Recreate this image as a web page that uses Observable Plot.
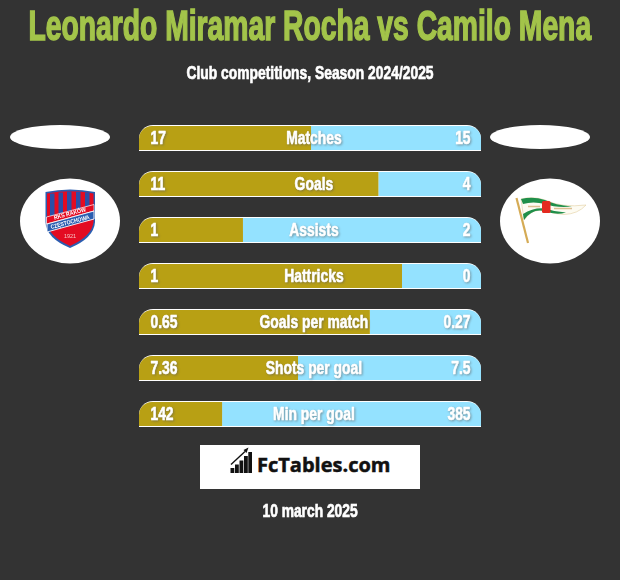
<!DOCTYPE html>
<html><head><meta charset="utf-8">
<script src="https://cdn.jsdelivr.net/npm/d3@7"></script>
<script src="https://cdn.jsdelivr.net/npm/@observablehq/plot@0.6"></script>
<style>
html,body{margin:0;padding:0;background:#333333;}
#page{position:relative;width:620px;height:580px;overflow:hidden;font-family:"Liberation Sans",sans-serif;font-weight:700;}
.line{position:absolute;left:0;width:620px;display:flex;justify-content:center;white-space:nowrap;}
.line span{display:inline-block;flex:none;transform-origin:center center;}
#title{top:2px;font-size:42px;line-height:48px;color:#a3c44a;-webkit-text-stroke:1.500px #a3c44a;}
#sub{top:62px;font-size:18.500px;line-height:22px;color:#fff;-webkit-text-stroke:.7px #fff;}
#chart{position:absolute;left:0;top:110px;}
#deco{position:absolute;left:0;top:0;}
#brand{position:absolute;left:200px;top:445px;width:220px;height:44px;background:#fff;}
#brandtxt{position:absolute;left:57px;top:7px;font-family:"Open Sans",sans-serif;font-weight:700;font-size:20px;line-height:26px;color:#111;white-space:nowrap;-webkit-text-stroke:.5px #111;}
#date{top:500px;font-size:18px;line-height:22px;color:#fff;-webkit-text-stroke:.7px #fff;}
</style></head><body>
<div id="page">
<div class="line" id="title"><span data-w="563">Leonardo Miramar Rocha vs Camilo Mena</span></div>
<div class="line" id="sub"><span data-w="247">Club competitions, Season 2024/2025</span></div>
<div id="chart"></div>
<svg id="deco" width="620" height="440" font-family="Liberation Sans" font-weight="700">
  <ellipse cx="60" cy="137" rx="50" ry="12" fill="#fff"/>
  <ellipse cx="540" cy="137" rx="50" ry="12" fill="#fff"/>
  <ellipse cx="70" cy="221" rx="50" ry="42.500" fill="#fff"/>
  <ellipse cx="550" cy="221" rx="50" ry="42.500" fill="#fff"/>
  <!-- Rakow crest -->
  <path d="M45.500 192Q70 187 95 192V222Q94 238 70 248Q46 238 45.500 222Z" fill="#2a5db0"/>
  <path d="M47 193.500Q70 189 93.500 193.500V222Q92 236 70 246Q48 236 47 222Z" fill="#e30b22"/>
  <g fill="#2a4fa8">
    <path d="M50 193.500H54.500V216L50 217Z"/><path d="M58.500 192.500H63V214L58.500 215Z"/><path d="M67 191.500H71.500V212L67 213Z"/><path d="M76 192H80.500V209.500L76 210.500Z"/><path d="M85 192.500H89.500V207L85 208Z"/>
  </g>
  <path d="M46.500 217L94 204.500V211L46.500 224Z" fill="#e30b22" stroke="#fff" stroke-width=".7"/>
  <path d="M47 224L94 211V219L47 232Z" fill="#2a5db0" stroke="#fff" stroke-width=".9"/>
  <text x="70" y="215.500" font-size="6" textLength="33" lengthAdjust="spacingAndGlyphs" fill="#fff" text-anchor="middle" transform="rotate(-15 70 214)">RKS RAKÓW</text>
  <text x="70" y="224" font-size="6" textLength="40" lengthAdjust="spacingAndGlyphs" fill="#fff" text-anchor="middle" transform="rotate(-15 70 222)">CZĘSTOCHOWA</text>
  <text x="70" y="238" font-size="5.500" fill="#f6c6c6" text-anchor="middle" font-weight="400">1921</text>
  <!-- Lechia pennant -->
  <path d="M521 199Q533 196 545 200Q562 208 586 205Q578 214 564 214.500Q553 214 545 210.500Q532 208 524 220Z" fill="#fdfbf2" stroke="#e3cfa0" stroke-width=".6"/>
  <path d="M521 199Q533 196 545 200Q555 205 572 206.500Q556 208 545 204Q533 201 523 204Z" fill="#1f8f4a"/>
  <path d="M523 214Q533 207.500 545 208.500Q555 212 566 212.500Q556 215.500 545 211Q532 208 524 220Z" fill="#1f8f4a"/>
  <path d="M528 206.500H540M554 208.500H572" stroke="#dcbf92" stroke-width="1.500"/>
  <rect x="542" y="201" width="8.500" height="12" rx="1.500" fill="#e32a1f"/>
  <path d="M516.500 198L528 243" stroke="#d5ab55" stroke-width="2.200"/>
</svg>
<div id="brand">
  <svg width="60" height="44" style="position:absolute;left:0;top:0">
    <g fill="#111">
      <rect x="30.500" y="23" width="3.800" height="5"/>
      <rect x="35" y="19.500" width="3.800" height="8.500"/>
      <rect x="39.500" y="15.500" width="3.800" height="12.500"/>
      <rect x="44" y="11" width="3.800" height="17"/>
      <rect x="48.300" y="7" width="3.700" height="21"/>
    </g>
    <path d="M31 19.500L45 6.500" stroke="#111" stroke-width="1.400" fill="none"/>
    <path d="M48.500 2.500L43.500 5L46.500 8Z" fill="#111"/>
  </svg>
  <div id="brandtxt">FcTables.com</div>
</div>
<div class="line" id="date"><span data-w="95">10 march 2025</span></div>
</div>
<script>
const metrics = ["Matches","Goals","Assists","Hattricks","Goals per match","Shots per goal","Min per goal"];
const leftLabels = ["17","11","1","1","0.65","7.36","142"];
const rightLabels = ["15","4","2","0","0.27","7.5","385"];
const leftShare = [0.503,0.700,0.304,0.769,0.675,0.465,0.243];

const rows = metrics.map((m,i)=>({metric:m,left:leftLabels[i],right:rightLabels[i],share:leftShare[i]}));
const gold="#b8a014", sky="#94e2ff";
const textOpts={fill:"#fff",stroke:"#fff",strokeWidth:.65,fontFamily:"Liberation Sans",fontWeight:700,fontSize:19,dy:-1,imageFilter:"drop-shadow(1.5px 1.5px 1px rgba(90,90,90,.55))"};
const R=14;
const plot = Plot.plot({
  width:620,height:330,margin:0,
  style:{background:"transparent",overflow:"visible"},
  x:{domain:[0,1],range:[139,481],axis:null},
  y:{type:"band",domain:metrics,range:[15,317],paddingInner:20/46,paddingOuter:0,axis:null},
  marks:[
    Plot.barX(rows,{x1:0,x2:1,y:"metric",fill:"#fff",rx1y1:R,rx2y1:R}),
    Plot.barX(rows,{x1:"share",x2:1,y:"metric",fill:sky,insetTop:1,insetBottom:1,rx2y1:R-1}),
    Plot.barX(rows,{x1:0,x2:"share",y:"metric",fill:gold,insetTop:1,insetBottom:1,rx1y1:R-1}),
    Plot.text(rows,{...textOpts,x:()=>0.51,y:"metric",text:"metric",textAnchor:"middle"}),
    Plot.text(rows,{...textOpts,x:()=>0.032,y:"metric",text:"left",textAnchor:"start"}),
    Plot.text(rows,{...textOpts,x:()=>0.968,y:"metric",text:"right",textAnchor:"end"})
  ]
});
document.getElementById("chart").appendChild(plot);
// The reference face is a condensed display type: narrow the installed face.
plot.querySelectorAll("text").forEach(t=>{
  const len=t.getComputedTextLength();
  t.setAttribute("textLength",(len*0.73).toFixed(1));
  t.setAttribute("lengthAdjust","spacingAndGlyphs");
});
document.querySelectorAll(".line span").forEach(s=>{
  s.style.transform=`scaleX(${(+s.dataset.w)/s.offsetWidth})`;
});
</script>
</body></html>
